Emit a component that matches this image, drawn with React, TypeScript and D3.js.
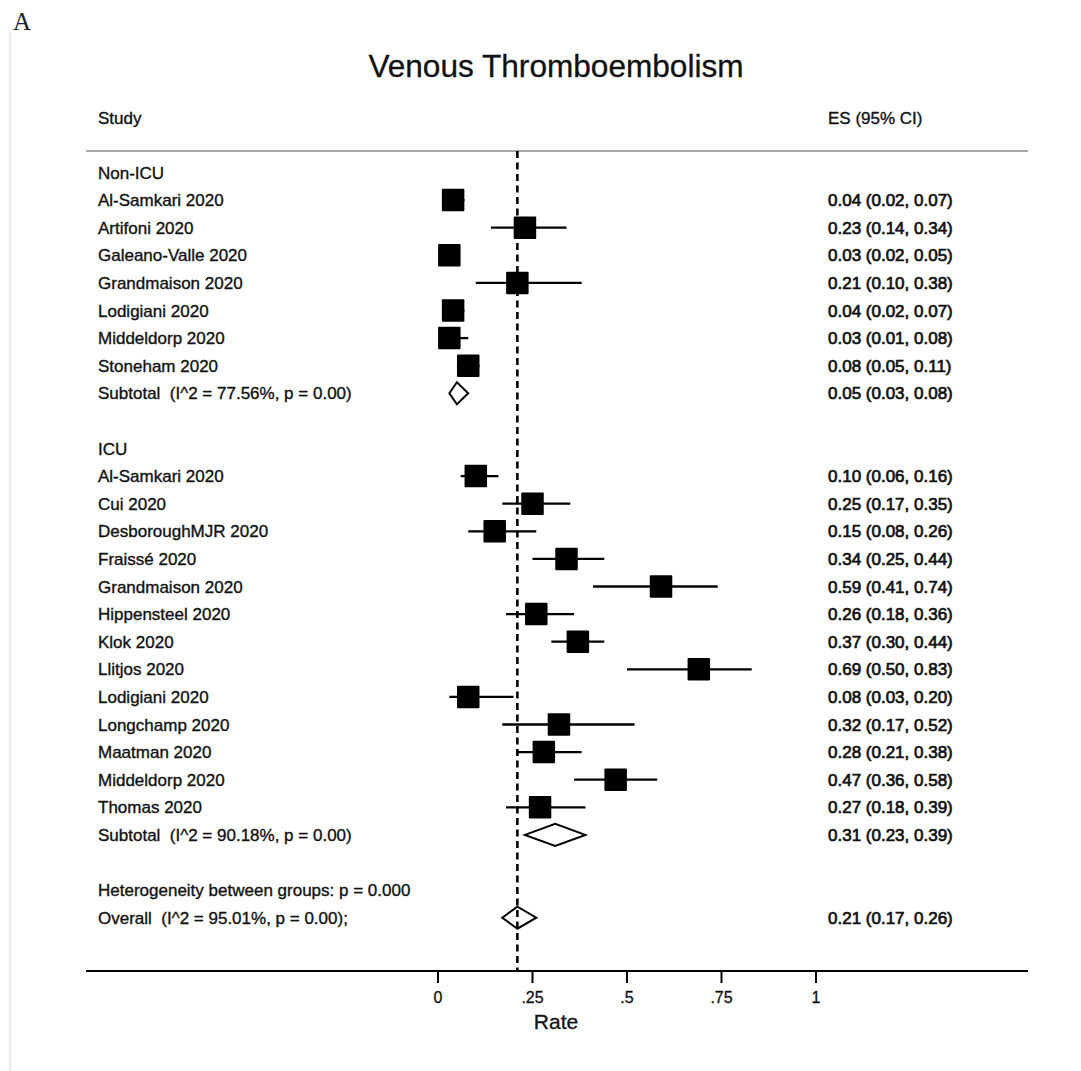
import React, { useLayoutEffect } from "react";
import * as d3 from "d3";

// ---- data ----
const nonIcuStudies = ["Al-Samkari 2020", "Artifoni 2020", "Galeano-Valle 2020", "Grandmaison 2020", "Lodigiani 2020", "Middeldorp 2020", "Stoneham 2020"];
const nonIcuES = [0.04, 0.23, 0.03, 0.21, 0.04, 0.03, 0.08];
const nonIcuLo = [0.02, 0.14, 0.02, 0.10, 0.02, 0.01, 0.05];
const nonIcuHi = [0.07, 0.34, 0.05, 0.38, 0.07, 0.08, 0.11];

const icuStudies = ["Al-Samkari 2020", "Cui 2020", "DesboroughMJR 2020", "Fraissé 2020", "Grandmaison 2020", "Hippensteel 2020", "Klok 2020", "Llitjos 2020", "Lodigiani 2020", "Longchamp 2020", "Maatman 2020", "Middeldorp 2020", "Thomas 2020"];
const icuES = [0.10, 0.25, 0.15, 0.34, 0.59, 0.26, 0.37, 0.69, 0.08, 0.32, 0.28, 0.47, 0.27];
const icuLo = [0.06, 0.17, 0.08, 0.25, 0.41, 0.18, 0.30, 0.50, 0.03, 0.17, 0.21, 0.36, 0.18];
const icuHi = [0.16, 0.35, 0.26, 0.44, 0.74, 0.36, 0.44, 0.83, 0.20, 0.52, 0.38, 0.58, 0.39];

const groupNames = ["Non-ICU", "ICU"];
const subtotalES = [0.05, 0.31];
const subtotalLo = [0.03, 0.23];
const subtotalHi = [0.08, 0.39];
const subtotalI2 = ["77.56%", "90.18%"];
const subtotalP = ["0.00", "0.00"];

const overallES = 0.21;
const overallLo = 0.17;
const overallHi = 0.26;
const overallI2 = "95.01%";
const overallP = "0.00";
const heterogeneityP = "0.000";

const xTicks = [0, 0.25, 0.5, 0.75, 1];
const xTickLabels = ["0", ".25", ".5", ".75", "1"];

const title = "Venous Thromboembolism";
const xLabel = "Rate";

type Row =
  | { kind: "group"; label: string }
  | { kind: "study"; label: string; es: number; lo: number; hi: number }
  | { kind: "subtotal"; label: string; es: number; lo: number; hi: number }
  | { kind: "blank" }
  | { kind: "text"; label: string }
  | { kind: "overall"; label: string; es: number; lo: number; hi: number };

const fmt = (v: number) => v.toFixed(2);

function buildRows(): Row[] {
  const rows: Row[] = [];
  const groups = [
    { s: nonIcuStudies, e: nonIcuES, l: nonIcuLo, h: nonIcuHi },
    { s: icuStudies, e: icuES, l: icuLo, h: icuHi },
  ];
  groups.forEach((g, gi) => {
    rows.push({ kind: "group", label: groupNames[gi] });
    g.s.forEach((name, i) => rows.push({ kind: "study", label: name, es: g.e[i], lo: g.l[i], hi: g.h[i] }));
    rows.push({
      kind: "subtotal",
      label: `Subtotal  (I^2 = ${subtotalI2[gi]}, p = ${subtotalP[gi]})`,
      es: subtotalES[gi], lo: subtotalLo[gi], hi: subtotalHi[gi],
    });
    rows.push({ kind: "blank" });
  });
  rows.push({ kind: "text", label: `Heterogeneity between groups: p = ${heterogeneityP}` });
  rows.push({ kind: "overall", label: `Overall  (I^2 = ${overallI2}, p = ${overallP});`, es: overallES, lo: overallLo, hi: overallHi });
  return rows;
}

export default function App() {
  useLayoutEffect(() => {
    document.body.style.margin = "0";
  }, []);

  const W = 1081, H = 1071;
  const font = "'Liberation Sans', Arial, Helvetica, sans-serif";
  const rows = buildRows();

  const x = d3.scaleLinear().domain([0, 1]).range([438, 816]);
  const y = d3.scaleLinear().domain([0, rows.length - 1]).range([172.5, 172.5 + (rows.length - 1) * 27.6]);

  const labelX = 98;
  const esX = 828;
  const lineX0 = 86, lineX1 = 1028;
  const headerLineY = 151;
  const axisY = 971;
  const sq = 22.5;
  const dh = 11; // half diamond height
  const txtOff = 6;
  const ink = "#111";
  const pre: React.CSSProperties = { whiteSpace: "pre" };

  const diamond = (es: number, lo: number, hi: number, cy: number) => {
    const p = d3.path();
    p.moveTo(x(lo), cy);
    p.lineTo(x(es), cy - dh);
    p.lineTo(x(hi), cy);
    p.lineTo(x(es), cy + dh);
    p.closePath();
    return p.toString();
  };

  return (
    <svg width={W} height={H} style={{ display: "block", background: "#fff" }} fontFamily={font}>
      {/* faint border */}
      <line x1={10} x2={10} y1={32} y2={H} stroke="#e4e4e4" strokeWidth={1.5} />
      <text x={13} y={30} fontFamily="'Liberation Serif', 'Times New Roman', serif" fontSize={25} fill="#222">A</text>

      <text x={556} y={77} textAnchor="middle" fontSize={31.6} fill={ink} stroke={ink} strokeWidth={0.3}>{title}</text>

      <text x={labelX} y={118 + txtOff} fontSize={17} fill={ink} stroke={ink} strokeWidth={0.35}>Study</text>
      <text x={esX} y={118 + txtOff} fontSize={17} fill={ink} stroke={ink} strokeWidth={0.35}>ES (95% CI)</text>
      <line x1={lineX0} x2={lineX1} y1={headerLineY} y2={headerLineY} stroke="#aaa" strokeWidth={2} />

      {/* overall estimate dashed line */}
      <line x1={x(overallES)} x2={x(overallES)} y1={headerLineY} y2={axisY} stroke="#000" strokeWidth={2.6} strokeDasharray="7,4.5" />

      {rows.map((r, i) => {
        const cy = y(i);
        if (r.kind === "blank") return null;
        const els: React.ReactNode[] = [];
        els.push(
          <text key="l" x={labelX} y={cy + txtOff} fontSize={17} fill={ink} stroke={ink} strokeWidth={0.35} style={pre}>{r.label}</text>
        );
        if (r.kind === "study") {
          els.push(<line key="ci" x1={x(r.lo)} x2={x(r.hi)} y1={cy} y2={cy} stroke="#000" strokeWidth={2.3} />);
          els.push(<rect key="sq" x={x(r.es) - sq / 2} y={cy - sq / 2} width={sq} height={sq} fill="#000" rx={1} />);
        }
        if (r.kind === "subtotal" || r.kind === "overall") {
          els.push(<path key="d" d={diamond(r.es, r.lo, r.hi, cy)} fill={r.kind === "overall" ? "none" : "#fff"} stroke="#000" strokeWidth={2} strokeLinejoin="miter" />);
        }
        if (r.kind === "study" || r.kind === "subtotal" || r.kind === "overall") {
          els.push(
            <text key="es" x={esX} y={cy + txtOff} fontSize={17} fill={ink} stroke={ink} strokeWidth={0.7}>
              {`${fmt(r.es)} (${fmt(r.lo)}, ${fmt(r.hi)})`}
            </text>
          );
        }
        return <g key={i}>{els}</g>;
      })}

      {/* axis */}
      <line x1={lineX0} x2={lineX1} y1={axisY} y2={axisY} stroke="#000" strokeWidth={2} />
      {xTicks.map((t, i) => (
        <g key={i}>
          <line x1={x(t)} x2={x(t)} y1={axisY} y2={axisY + 12} stroke="#000" strokeWidth={2} />
          <text x={x(t)} y={1003} textAnchor="middle" fontSize={16} fill={ink} stroke={ink} strokeWidth={0.3}>{xTickLabels[i]}</text>
        </g>
      ))}
      <text x={556} y={1029} textAnchor="middle" fontSize={21} fill={ink} stroke={ink} strokeWidth={0.3}>{xLabel}</text>
    </svg>
  );
}
